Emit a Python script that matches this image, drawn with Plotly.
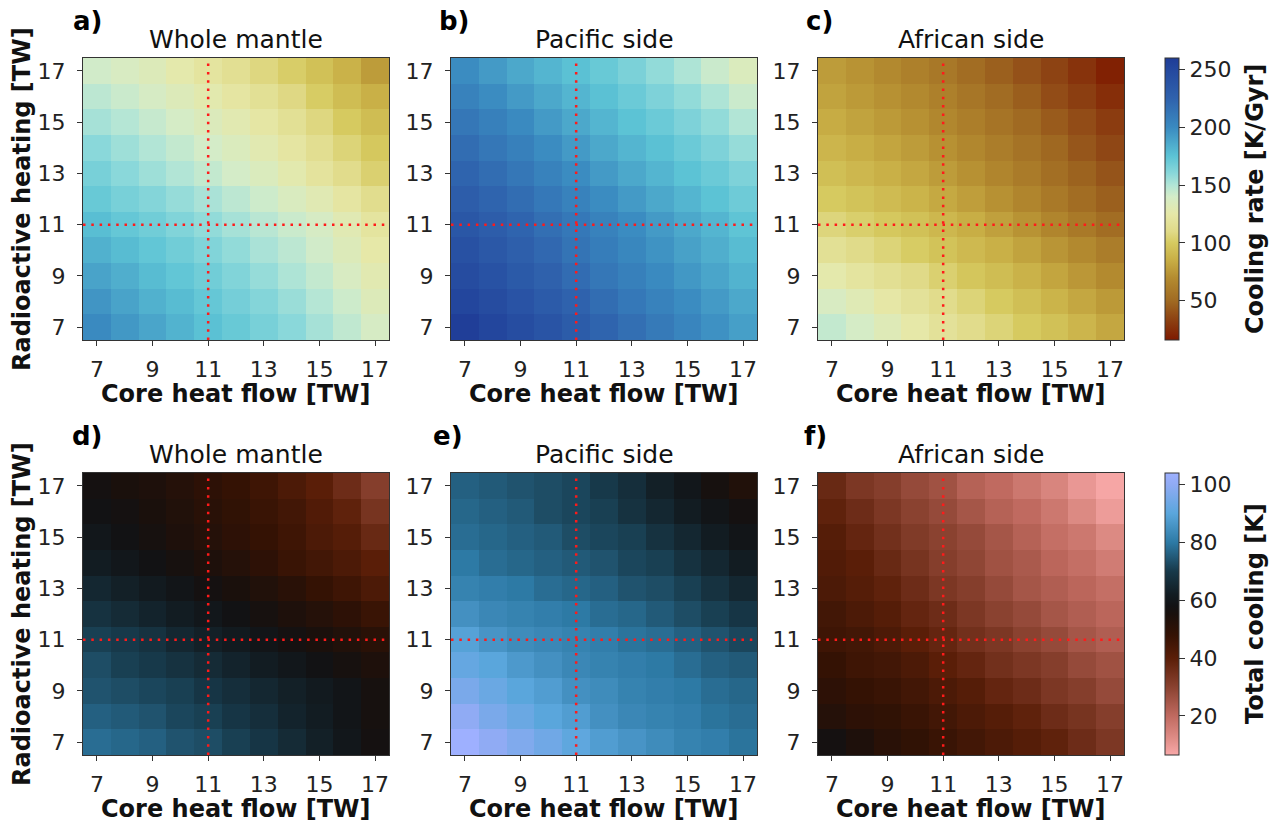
import plotly.graph_objects as go

# ---------------- data ----------------
core_heat_flow = [7, 8, 9, 10, 11, 12, 13, 14, 15, 16, 17]
radioactive_heating = [7, 8, 9, 10, 11, 12, 13, 14, 15, 16, 17]
tick_values = [7, 9, 11, 13, 15, 17]

# rows: radioactive heating 7 -> 17 ; columns: core heat flow 7 -> 17
rate_whole = [
    [200, 194, 188, 182, 176, 171, 166, 160, 153, 146, 138],
    [195, 189, 183, 178, 172, 167, 162, 156, 149, 142, 133],
    [189, 184, 178, 173, 168, 163, 157, 151, 145, 137, 129],
    [183, 178, 173, 168, 163, 158, 152, 147, 141, 133, 125],
    [177, 172, 168, 163, 158, 153, 148, 143, 138, 130, 121],
    [171, 166, 162, 157, 152, 147, 142, 136, 130, 122, 113],
    [166, 160, 155, 150, 145, 140, 135, 128, 120, 112, 104],
    [160, 155, 150, 145, 140, 135, 129, 122, 114, 106, 99],
    [153, 149, 144, 139, 134, 129, 123, 116, 108, 100, 93],
    [147, 143, 138, 133, 128, 122, 116, 109, 101, 93, 86],
    [141, 137, 133, 127, 121, 115, 108, 102, 95, 87, 77],
]
rate_pacific = [
    [258, 252, 245, 238, 231, 224, 217, 210, 203, 197, 191],
    [252, 246, 239, 232, 225, 218, 211, 205, 199, 193, 187],
    [246, 240, 233, 226, 219, 212, 206, 200, 194, 188, 182],
    [241, 235, 228, 221, 214, 208, 202, 196, 190, 184, 178],
    [236, 230, 224, 217, 211, 205, 199, 193, 187, 181, 174],
    [230, 224, 218, 211, 205, 199, 193, 187, 181, 175, 169],
    [224, 218, 212, 205, 199, 193, 187, 181, 175, 170, 164],
    [218, 212, 206, 199, 193, 187, 181, 176, 170, 164, 157],
    [212, 206, 200, 193, 187, 181, 175, 170, 164, 158, 150],
    [205, 199, 193, 187, 181, 176, 170, 164, 158, 151, 143],
    [199, 193, 187, 181, 176, 171, 165, 158, 151, 143, 135],
]
rate_african = [
    [145, 139, 132, 125, 118, 112, 106, 100, 95, 89, 82],
    [137, 131, 124, 118, 112, 106, 100, 94, 88, 82, 76],
    [127, 121, 115, 110, 104, 98, 93, 87, 81, 75, 69],
    [116, 111, 106, 101, 96, 91, 86, 80, 74, 68, 61],
    [107, 103, 99, 95, 90, 85, 79, 73, 66, 59, 52],
    [100, 96, 92, 88, 83, 78, 72, 66, 59, 52, 46],
    [94, 90, 86, 82, 77, 72, 66, 60, 53, 47, 41],
    [89, 85, 81, 77, 72, 67, 61, 55, 49, 42, 36],
    [84, 80, 76, 72, 67, 62, 56, 50, 44, 38, 31],
    [80, 76, 72, 68, 63, 57, 51, 45, 38, 32, 25],
    [77, 73, 68, 63, 58, 52, 46, 40, 34, 27, 19],
]
total_whole = [
    [78, 77, 76, 74, 73, 71, 69, 66, 63, 60, 57],
    [76, 75, 74, 72, 71, 69, 67, 64, 62, 59, 56],
    [74, 73, 72, 71, 69, 67, 65, 63, 61, 59, 56],
    [73, 71, 70, 68, 66, 64, 62, 60, 58, 56, 54],
    [71, 70, 68, 65, 63, 61, 59, 57, 55, 53, 51],
    [68, 66, 64, 62, 60, 58, 56, 54, 52, 50, 47],
    [65, 63, 61, 59, 57, 55, 53, 51, 48, 46, 43],
    [62, 60, 58, 56, 54, 52, 50, 47, 45, 43, 40],
    [60, 58, 56, 54, 52, 50, 48, 46, 43, 41, 37],
    [58, 57, 55, 53, 51, 49, 47, 45, 42, 39, 34],
    [57, 55, 54, 52, 50, 48, 46, 43, 40, 36, 31],
]
total_pacific = [
    [104, 100, 97, 94, 91, 88, 86, 84, 82, 81, 79],
    [100, 96, 93, 90, 88, 85, 83, 82, 81, 79, 78],
    [96, 93, 90, 88, 85, 84, 82, 81, 80, 78, 77],
    [92, 90, 87, 85, 83, 82, 81, 80, 78, 76, 75],
    [89, 86, 84, 83, 82, 81, 79, 78, 76, 74, 72],
    [85, 83, 82, 81, 80, 78, 77, 75, 73, 71, 69],
    [82, 81, 80, 78, 77, 76, 74, 73, 71, 68, 65],
    [80, 78, 77, 76, 75, 74, 72, 71, 68, 65, 62],
    [78, 77, 76, 75, 73, 72, 71, 68, 65, 62, 59],
    [77, 76, 75, 73, 72, 71, 68, 65, 62, 59, 57],
    [76, 75, 74, 73, 72, 70, 67, 63, 60, 56, 53],
]
total_african = [
    [57, 54, 51, 49, 47, 45, 43, 41, 39, 36, 33],
    [52, 50, 49, 47, 45, 43, 41, 39, 36, 34, 31],
    [50, 48, 47, 45, 43, 41, 38, 36, 33, 31, 28],
    [48, 46, 45, 43, 40, 38, 35, 33, 31, 28, 26],
    [46, 45, 43, 40, 38, 35, 33, 30, 28, 25, 23],
    [45, 43, 41, 38, 36, 33, 30, 28, 25, 23, 21],
    [43, 41, 39, 36, 33, 31, 28, 25, 23, 21, 19],
    [42, 40, 37, 34, 31, 29, 26, 24, 21, 19, 16],
    [41, 38, 35, 32, 30, 28, 25, 22, 19, 17, 13],
    [39, 36, 33, 30, 28, 25, 22, 20, 17, 13, 9],
    [37, 33, 31, 28, 26, 22, 20, 17, 14, 10, 7],
]

panel_labels = ["a)", "b)", "c)", "d)", "e)", "f)"]
panel_titles = ["Whole mantle", "Pacific side", "African side",
                "Whole mantle", "Pacific side", "African side"]
rate_ticks = [50, 100, 150, 200, 250]
total_ticks = [20, 40, 60, 80, 100]
rate_range = [16, 260]
total_range = [6.5, 104]

# ---------------- colour scales ----------------
rate_stops = [(16, "#7E1A00"), (35, "#8E4514"), (50, "#A06A22"), (70, "#B48C30"),
              (85, "#C8AE45"), (100, "#D6CA60"), (110, "#E0DA88"), (125, "#E6E8A8"),
              (140, "#D4ECC8"), (150, "#B2E5D6"), (160, "#8AD8DA"), (175, "#5CC3D5"),
              (200, "#3A8AC0"), (225, "#2F62AD"), (250, "#24489E"), (260, "#1F3C97")]
total_stops = [(6.5, "#F8A8A8"), (12, "#E08E88"), (20, "#C06A60"), (30, "#8A4230"),
               (40, "#5A1E08"), (48, "#341204"), (55, "#1A100C"), (58, "#121214"),
               (62, "#121C22"), (70, "#17394A"), (80, "#2D7AA5"), (90, "#5AA6DC"),
               (100, "#90ABF4"), (104, "#9EB0FF")]


def to_scale(stops, lo, hi):
    return [[(v - lo) / (hi - lo), c] for v, c in stops]


W, H = 1280, 823
FONT = "DejaVu Sans"
col_px = [(83, 389), (451, 757), (818, 1124)]
row_px = [(58, 340), (473, 755)]

fig = go.Figure()
data = [rate_whole, rate_pacific, rate_african, total_whole, total_pacific, total_african]

layout = dict(width=W, height=H, margin=dict(l=0, r=0, t=0, b=0),
              paper_bgcolor="white", plot_bgcolor="white",
              font=dict(family=FONT, color="#222"), showlegend=False)
shapes = []
annotations = []

for i in range(6):
    r, c = divmod(i, 3)
    n = i + 1
    xs = "" if n == 1 else str(n)
    fig.add_trace(go.Heatmap(
        x=core_heat_flow, y=radioactive_heating, z=data[i],
        coloraxis="coloraxis" if r == 0 else "coloraxis2",
        xaxis="x" + xs, yaxis="y" + xs, hoverinfo="skip"))
    x0, x1 = col_px[c]
    y0, y1 = row_px[r]
    axis_common = dict(range=[6.5, 17.5], tickvals=tick_values, ticks="outside",
                       ticklen=5, tickwidth=1, tickcolor="#333", showline=True,
                       linecolor="#333", linewidth=1, mirror=True, showgrid=False,
                       zeroline=False, tickfont=dict(size=22, color="#222", family=FONT))
    layout["xaxis" + xs] = dict(axis_common, domain=[x0 / W, x1 / W], anchor="y" + xs,
                                ticklabelstandoff=5)
    layout["yaxis" + xs] = dict(axis_common, domain=[1 - y1 / H, 1 - y0 / H],
                                anchor="x" + xs, ticklabelstandoff=7)
    # dotted reference lines
    shapes.append(dict(type="line", xref="x" + xs, yref="y" + xs + " domain",
                       x0=11, x1=11, y0=0, y1=1,
                       line=dict(color="#FF1A1A", width=2.5, dash="2.5px,5.8px")))
    shapes.append(dict(type="line", xref="x" + xs + " domain", yref="y" + xs,
                       x0=0, x1=1, y0=11, y1=11,
                       line=dict(color="#FF1A1A", width=2.5, dash="2.5px,5.8px")))
    # titles
    annotations.append(dict(text=panel_titles[i], xref="paper", yref="paper",
                            x=(x0 + x1) / 2 / W, y=1 - (y0 - 18) / H,
                            xanchor="center", yanchor="middle", showarrow=False,
                            font=dict(size=25, color="#111", family=FONT)))
    # x axis title
    annotations.append(dict(text="<b>Core heat flow [TW]</b>", xref="paper", yref="paper",
                            x=(x0 + x1) / 2 / W, y=1 - (y1 + 54) / H,
                            xanchor="center", yanchor="middle", showarrow=False,
                            font=dict(size=24, color="#111", family=FONT)))

label_pos = [(87, 21), (454, 21), (819, 21), (87, 436), (448, 436), (815, 436)]
for lab, (px, py) in zip(panel_labels, label_pos):
    annotations.append(dict(text="<b>" + lab + "</b>", xref="paper", yref="paper",
                            x=px / W, y=1 - py / H, xanchor="center", yanchor="middle",
                            showarrow=False, font=dict(size=26, color="#000", family=FONT)))

for r in range(2):
    y0, y1 = row_px[r]
    annotations.append(dict(text="<b>Radioactive heating [TW]</b>", xref="paper", yref="paper",
                            x=22 / W, y=1 - (y0 + y1) / 2 / H, textangle=-90,
                            xanchor="center", yanchor="middle", showarrow=False,
                            font=dict(size=24, color="#111", family=FONT)))

cb_titles = ["<b>Cooling rate [K/Gyr]</b>", "<b>Total cooling [K]</b>"]
for r in range(2):
    y0, y1 = row_px[r]
    annotations.append(dict(text=cb_titles[r], xref="paper", yref="paper",
                            x=1255 / W, y=1 - (y0 + y1) / 2 / H, textangle=-90,
                            xanchor="center", yanchor="middle", showarrow=False,
                            font=dict(size=24, color="#111", family=FONT)))


def cbar(r, ticks):
    y0, y1 = row_px[r]
    return dict(x=1165 / W, xanchor="left", xpad=0, ypad=0, thickness=14,
                thicknessmode="pixels", len=(y1 - y0) / H, lenmode="fraction",
                y=1 - (y0 + y1) / 2 / H, yanchor="middle", outlinewidth=1,
                outlinecolor="#333", tickvals=ticks, ticks="outside", ticklen=6,
                tickcolor="#333", tickfont=dict(size=22, color="#222", family=FONT))


layout["coloraxis"] = dict(colorscale=to_scale(rate_stops, *rate_range),
                           cmin=rate_range[0], cmax=rate_range[1],
                           colorbar=cbar(0, rate_ticks))
layout["coloraxis2"] = dict(colorscale=to_scale(total_stops, *total_range),
                            cmin=total_range[0], cmax=total_range[1],
                            colorbar=cbar(1, total_ticks))
layout["shapes"] = shapes
layout["annotations"] = annotations
fig.update_layout(**layout)
fig.write_html("out.html")
